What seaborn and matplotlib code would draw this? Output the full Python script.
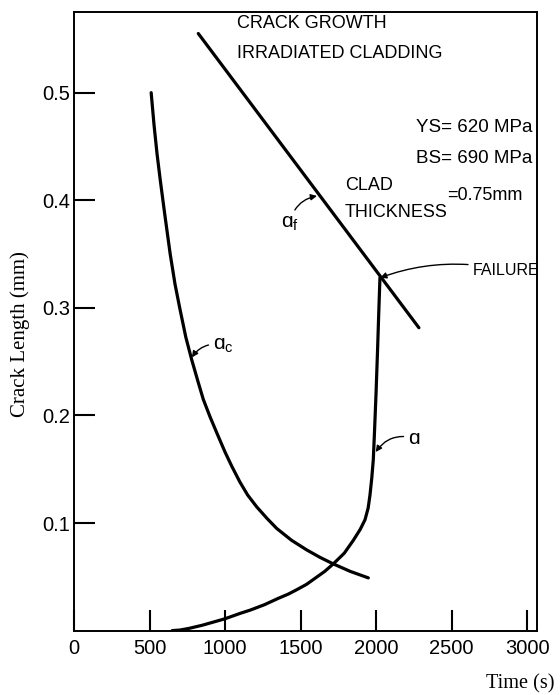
import matplotlib
matplotlib.use("Agg")
import numpy as np
import pandas as pd
import seaborn as sns
from matplotlib import pyplot as plt

# critical crack length a_c (s, mm)
time_ac = [511, 530, 550, 571, 600, 637, 669, 700, 740, 779, 820, 856, 900, 945,
           1000, 1044, 1099, 1150, 1210, 1280, 1342, 1440, 1541, 1630, 1717, 1830, 1949]
len_ac = [0.500, 0.470, 0.443, 0.419, 0.388, 0.350, 0.322, 0.300, 0.273, 0.252, 0.232,
          0.215, 0.199, 0.184, 0.166, 0.153, 0.138, 0.126, 0.115, 0.104, 0.095, 0.084,
          0.075, 0.068, 0.062, 0.055, 0.049]

# crack length a
time_a = [650, 700, 760, 850, 1000, 1100, 1166, 1260, 1353, 1420, 1475, 1540, 1600,
          1660, 1717, 1790, 1850, 1895, 1927, 1948, 1960, 1972, 1982, 1990, 2000,
          2010, 2018, 2026]
len_a = [0.000, 0.0005, 0.002, 0.005, 0.011, 0.016, 0.019, 0.024, 0.030, 0.034, 0.038,
         0.043, 0.049, 0.055, 0.062, 0.072, 0.084, 0.094, 0.103, 0.114, 0.126, 0.142,
         0.159, 0.185, 0.220, 0.260, 0.295, 0.328]

# failure line a_f
time_af = [823, 2284]
len_af = [0.555, 0.2815]

x_ticks = [0, 500, 1000, 1500, 2000, 2500, 3000]
y_ticks = [0.1, 0.2, 0.3, 0.4, 0.5]

sns.set_style("ticks")
plt.rcParams["font.family"] = ["Liberation Sans", "DejaVu Sans"]
plt.rcParams["mathtext.fontset"] = "dejavusans"
plt.rcParams["mathtext.default"] = "regular"
plt.rcParams["text.color"] = "black"
plt.rcParams["xtick.color"] = "black"
plt.rcParams["ytick.color"] = "black"

df = pd.concat([
    pd.DataFrame({"curve": "ac", "time": time_ac, "length": len_ac}),
    pd.DataFrame({"curve": "a", "time": time_a, "length": len_a}),
    pd.DataFrame({"curve": "af", "time": time_af, "length": len_af}),
])

fig = plt.figure(figsize=(5.6, 6.95), dpi=100)
ax = fig.add_axes([74 / 560, 1 - 630.6 / 695, (537 - 74) / 560, (630.6 - 12) / 695])

sns.lineplot(data=df, x="time", y="length", units="curve", estimator=None,
             sort=False, color="black", linewidth=2.3, ax=ax)

ax.set_xlim(0, 3066)
ax.set_ylim(0, 0.575)
ax.set_xticks(x_ticks)
ax.set_yticks(y_ticks)
ax.set_xticklabels([str(t) for t in x_ticks])
ax.set_yticklabels([f"{t:.1f}" for t in y_ticks])
ax.set_xlabel("")
ax.set_ylabel("")
ax.tick_params(direction="in", length=15, width=1.5, labelsize=14.5)
ax.tick_params(axis="x", pad=6)
ax.tick_params(axis="y", pad=3)
for sp in ax.spines.values():
    sp.set_linewidth(1.4)
    sp.set_color("black")

serif = ["Liberation Serif", "DejaVu Serif"]
fig.text(20 / 560, 1 - 334 / 695, "Crack Length (mm)", rotation=90,
         ha="center", va="center", fontsize=15, family=serif)
fig.text(555 / 560, 1 - 684 / 695, "Time (s)", ha="right", va="center",
         fontsize=14.6, family=serif)

fs = 13
ax.text(1080, 0.564, "CRACK GROWTH", fontsize=fs, va="center")
ax.text(1080, 0.536, "IRRADIATED CLADDING", fontsize=fs, va="center")
ax.text(3033, 0.468, "YS= 620 MPa", fontsize=13.5, va="center", ha="right")
ax.text(3033, 0.439, "BS= 690 MPa", fontsize=13.5, va="center", ha="right")
ax.text(1795, 0.414, "CLAD", fontsize=fs, va="center")
ax.text(1795, 0.389, "THICKNESS", fontsize=fs, va="center")
ax.text(2470, 0.404, "=0.75mm", fontsize=fs, va="center")

lfs = 15
arrow = dict(arrowstyle="-|>", color="black", lw=1.0, mutation_scale=9,
             connectionstyle="arc3,rad=-0.35", shrinkA=1, shrinkB=0)
ax.annotate("ɑ$_f$", xy=(1609, 0.404), xytext=(1430, 0.378), fontsize=lfs,
            ha="center", va="center", arrowprops=arrow)
ax.annotate("ɑ$_c$", xy=(781, 0.254), xytext=(990, 0.265), fontsize=lfs,
            ha="center", va="center",
            arrowprops=dict(arrow, connectionstyle="arc3,rad=0.35"))
ax.annotate("ɑ", xy=(1998, 0.166), xytext=(2252, 0.179), fontsize=lfs,
            ha="center", va="center",
            arrowprops=dict(arrow, connectionstyle="arc3,rad=0.35"))
ax.annotate("FAILURE", xy=(2028, 0.328), xytext=(2640, 0.335), fontsize=11.5,
            ha="left", va="center",
            arrowprops=dict(arrow, connectionstyle="arc3,rad=0.15"))

fig.savefig("out.png", dpi=100)
